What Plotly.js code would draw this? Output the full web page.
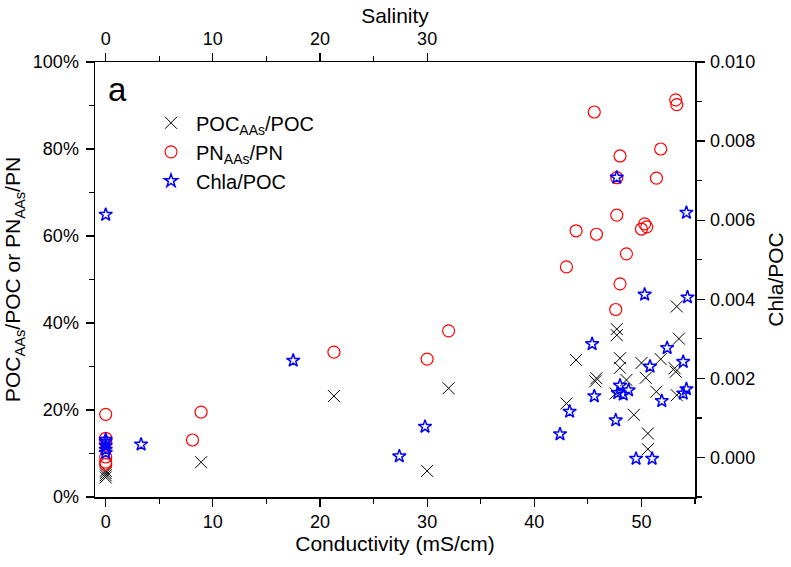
<!DOCTYPE html>
<html>
<head>
<meta charset="utf-8">
<script src="https://cdn.plot.ly/plotly-3.0.1.min.js"></script>
<style>
html,body{margin:0;padding:0;background:#fff;}
#chart{width:791px;height:567px;}
</style>
</head>
<body>
<div id="chart"></div>
<script>
// POC_AAs/POC (left axis, fraction)
const pocCond = [0, 0, 0, 0, 8.9, 21.3, 30.0, 32.0, 43.0, 43.9, 45.7, 45.8, 47.6, 47.7, 47.7, 48.0, 48.0, 48.6, 49.3, 50.0, 50.4, 50.6, 50.6, 51.4, 51.8, 53.1, 53.2, 53.3, 53.3, 53.5];
const pocRatio = [0.045, 0.05, 0.055, 0.06, 0.080, 0.232, 0.060, 0.250, 0.215, 0.315, 0.266, 0.273, 0.238, 0.386, 0.372, 0.319, 0.297, 0.269, 0.189, 0.308, 0.274, 0.146, 0.110, 0.242, 0.317, 0.296, 0.288, 0.438, 0.234, 0.364];

// PN_AAs/PN (left axis, fraction)
const pnCond = [0, 0, 0, 0, 0, 0, 8.1, 8.9, 21.3, 30.0, 32.0, 43.0, 43.9, 45.6, 45.8, 47.6, 47.7, 47.7, 48.0, 48.0, 48.6, 50.0, 50.3, 50.5, 51.4, 51.8, 53.2, 53.3];
const pnRatio = [0.19, 0.135, 0.125, 0.092, 0.08, 0.075, 0.131, 0.195, 0.333, 0.317, 0.382, 0.529, 0.612, 0.885, 0.604, 0.431, 0.648, 0.734, 0.784, 0.490, 0.559, 0.616, 0.628, 0.621, 0.733, 0.800, 0.913, 0.902];

// Chla/POC (right axis)
const chlaCond = [0, 0, 0, 0, 0, 0, 3.3, 17.5, 27.4, 29.8, 42.4, 43.3, 45.4, 45.6, 47.6, 47.7, 47.8, 48.0, 48.3, 48.8, 49.5, 50.3, 50.8, 51.0, 51.9, 52.4, 53.9, 53.9, 54.2, 54.2, 54.3];
const chlaRatio = [0.00614, 0.00045, 0.0004, 0.0003, 0.0002, 0.00012, 0.00033, 0.00245, 0.00003, 0.00078, 0.00059, 0.00116, 0.00287, 0.00155, 0.00094, 0.00708, 0.00163, 0.00182, 0.00159, 0.00170, -0.00003, 0.00412, 0.00230, -0.00003, 0.00143, 0.00277, 0.00242, 0.00162, 0.00173, 0.00619, 0.00405];

const salinityTicks = [0, 10, 20, 30];
const salinityMinor = [5, 15, 25];

const FONT = 'Liberation Sans, Arial, sans-serif';

const traces = [
  {x: pocCond, y: pocRatio, type: 'scatter', mode: 'markers', name: 'POC<sub>AAs</sub>/POC',
   marker: {symbol: 'x-thin-open', size: 12, color: '#000', line: {color: '#000', width: 1}}},
  {x: pnCond, y: pnRatio, type: 'scatter', mode: 'markers', name: 'PN<sub>AAs</sub>/PN',
   marker: {symbol: 'circle-open', size: 12, color: '#ff0000', line: {color: '#ff0000', width: 1.2}}},
  {x: chlaCond, y: chlaRatio, type: 'scatter', mode: 'markers', name: 'Chla/POC', yaxis: 'y2',
   marker: {symbol: 'star-open', size: 10, color: '#0000ff', line: {color: '#0000ff', width: 1.5}}},
  {x: [], y: [], xaxis: 'x2', type: 'scatter', mode: 'markers', showlegend: false, hoverinfo: 'skip'}
];

const axisCommon = {
  showline: true, linecolor: '#000', linewidth: 1.5, showgrid: false, zeroline: false,
  ticks: 'outside', ticklen: 8, tickwidth: 1.2, tickcolor: '#000',
  tickfont: {family: FONT, size: 18, color: '#000'}
};
const minorCommon = {ticklen: 5, tickwidth: 1.2, tickcolor: '#000', ticks: 'outside'};

const layout = {
  width: 791, height: 567,
  margin: {l: 95, r: 96, t: 62, b: 70, pad: 0},
  paper_bgcolor: '#fff', plot_bgcolor: '#fff',
  font: {family: FONT, color: '#000'},
  showlegend: true,
  legend: {x: 0.085, y: 0.905, xanchor: 'left', yanchor: 'top', bgcolor: 'rgba(0,0,0,0)',
           font: {family: FONT, size: 20, color: '#000'}, tracegroupgap: 0, itemwidth: 40},
  xaxis: Object.assign({}, axisCommon, {
    range: [-1, 55], tickmode: 'linear', tick0: 0, dtick: 10,
    minor: Object.assign({tickmode: 'linear', tick0: 0, dtick: 5}, minorCommon),
    title: {text: 'Conductivity (mS/cm)', font: {family: FONT, size: 21, color: '#000'}, standoff: 4}
  }),
  xaxis2: Object.assign({}, axisCommon, {
    overlaying: 'x', side: 'top', anchor: 'y', range: [-1, 55],
    tickmode: 'array', tickvals: salinityTicks, ticktext: salinityTicks.map(String),
    minor: Object.assign({tickmode: 'array', tickvals: salinityMinor}, minorCommon),
    title: {text: 'Salinity', font: {family: FONT, size: 21, color: '#000'}, standoff: 0}
  }),
  yaxis: Object.assign({}, axisCommon, {
    range: [0, 1], tickmode: 'linear', tick0: 0, dtick: 0.2, tickformat: '.0%', ticklabelstandoff: 3,
    minor: Object.assign({tickmode: 'linear', tick0: 0, dtick: 0.1}, minorCommon),
    title: {text: 'POC<sub>AAs</sub>/POC or PN<sub>AAs</sub>/PN', font: {family: FONT, size: 21, color: '#000'}, standoff: 6}
  }),
  yaxis2: Object.assign({}, axisCommon, {
    overlaying: 'y', side: 'right', anchor: 'x', range: [-0.001, 0.010], ticklabelstandoff: 2,
    tickmode: 'linear', tick0: 0, dtick: 0.002, tickformat: '.3f',
    minor: Object.assign({tickmode: 'linear', tick0: 0.001, dtick: 0.002}, minorCommon),
    title: {text: 'Chla/POC', font: {family: FONT, size: 21, color: '#000'}, standoff: 14}
  }),
  annotations: [
    {text: 'a', xref: 'paper', yref: 'paper', x: 0.018, y: 0.985, xanchor: 'left', yanchor: 'top',
     showarrow: false, font: {family: FONT, size: 33, color: '#000'}}
  ]
};

Plotly.newPlot('chart', traces, layout, {displayModeBar: false, staticPlot: true});
</script>
</body>
</html>
